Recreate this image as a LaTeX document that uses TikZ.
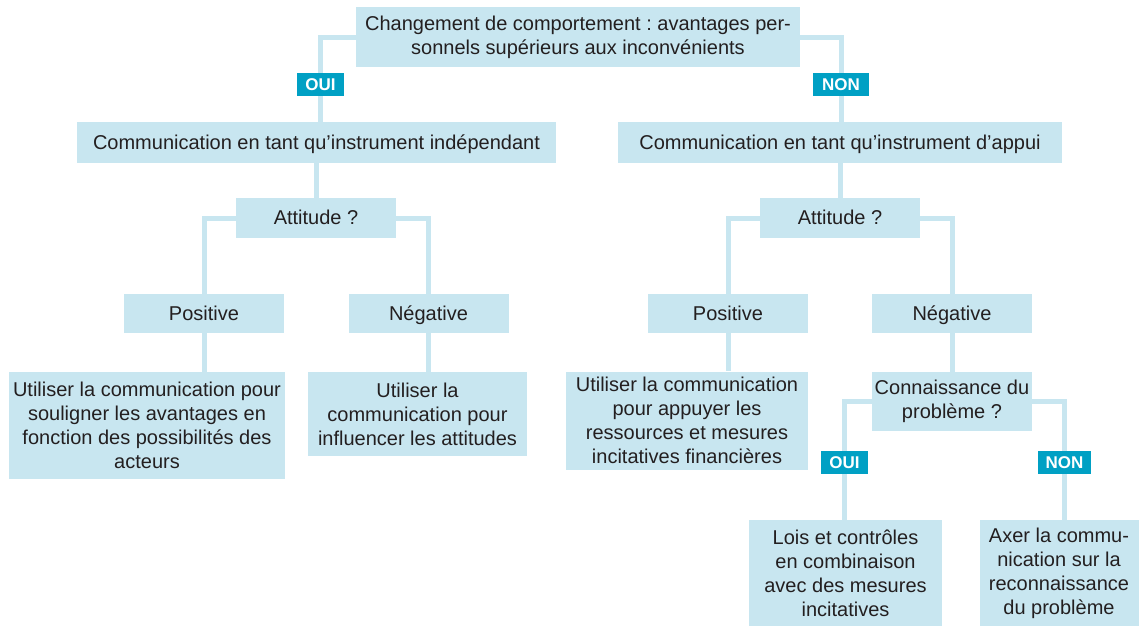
\documentclass[tikz,border=0pt]{standalone}
\usepackage{fontspec}
\setmainfont{Liberation Sans}
\usetikzlibrary{backgrounds}

\definecolor{boxblue}{RGB}{200,230,240}
\definecolor{badgeblue}{RGB}{0,160,196}
\definecolor{textgray}{RGB}{35,31,32}

\frenchspacing

\begin{document}
\begin{tikzpicture}[x=0.5pt, y=-0.5pt]  % 1 unit = 1 pixel of the original figure

    % Define some common styles
    \tikzset{
        box/.style={fill=boxblue, text=textgray, align=center, inner sep=0pt, font=\fontsize{10}{12}\selectfont},
        oneline/.style={box, text height=7.6pt, text depth=1pt},
        badge/.style={fill=badgeblue, text=white, inner sep=0pt, minimum height=11.5pt, text height=6.3pt, text depth=0pt, font=\fontsize{8.5}{10}\selectfont\bfseries},
        link/.style={draw=boxblue, line width=2.5pt}
    }

    \useasboundingbox (0,0) rectangle (1140,628);

    % Main question
    \node[box, minimum width=222pt, minimum height=30pt] (change) at (578,37) {Changement de comportement : avantages per-\\sonnels supérieurs aux inconvénients};
    \node[badge, minimum width=23.5pt] (oui) at (320.5,84.5) {OUI};
    \node[badge, minimum width=28pt] (non) at (841,84.5) {NON};

    % Role of the communication
    \node[oneline, minimum width=239.5pt, minimum height=20.5pt] (ci) at (316.5,142.5) {Communication en tant qu’instrument indépendant};
    \node[oneline, minimum width=222pt, minimum height=20.5pt] (ca) at (840,142.5) {Communication en tant qu’instrument d’appui};

    % Attitude questions
    \node[oneline, minimum width=80pt, minimum height=20pt] (attL) at (316,218) {Attitude ?};
    \node[oneline, minimum width=80pt, minimum height=20pt] (attR) at (840,218) {Attitude ?};

    % Answers
    \node[oneline, minimum width=80pt, minimum height=19.5pt] (posL) at (204,313.5) {Positive};
    \node[oneline, minimum width=80pt, minimum height=19.5pt] (negL) at (428.5,313.5) {Négative};
    \node[oneline, minimum width=80pt, minimum height=19.5pt] (posR) at (728,313.5) {Positive};
    \node[oneline, minimum width=80pt, minimum height=19.5pt] (negR) at (952,313.5) {Négative};

    % Resulting measures
    \node[box, minimum width=138pt, minimum height=53.5pt] (useL) at (147,425.5) {Utiliser la communication pour\\souligner les avantages en\\fonction des possibilités des\\acteurs};
    \node[box, minimum width=109.5pt, minimum height=42pt] (infL) at (417.5,414) {Utiliser la\\communication pour\\influencer les attitudes};
    \node[box, minimum width=121pt, minimum height=49pt] (useR) at (687,420.5) {Utiliser la communication\\pour appuyer les\\ressources et mesures\\incitatives financières};
    \node[box, minimum width=80pt, minimum height=29.5pt] (know) at (952,401.5) {Connaissance du\\problème ?};
    \node[badge, minimum width=23.5pt] (oui2) at (844.5,462.5) {OUI};
    \node[badge, minimum width=26.5pt] (non2) at (1064.5,462.5) {NON};
    \node[box, minimum width=96.5pt, minimum height=53pt] (laws) at (845.5,573) {Lois et contrôles\\en combinaison\\avec des mesures\\incitatives};
    \node[box, minimum width=79.5pt, minimum height=53pt] (focus) at (1059,573) {Axer la commu-\\nication sur la\\reconnaissance\\du problème};

    % Connectors (behind the boxes)
    \begin{pgfonlayer}{background}
        \draw[link] (change.west) -| (oui.center) -- (oui |- ci.north);
        \draw[link] (change.east) -| (non.center) -- (non |- ca.north);
        \draw[link] (ci.south) -- (ci.south |- attL.north);
        \draw[link] (ca.south) -- (ca.south |- attR.north);
        \draw[link] (attL.west) -| (posL.north);
        \draw[link] (attL.east) -| (negL.north);
        \draw[link] (attR.west) -| (posR.north);
        \draw[link] (attR.east) -| (negR.north);
        \draw[link] (posL.south) -- (posL.south |- useL.north);
        \draw[link] (negL.south) -- (negL.south |- infL.north);
        \draw[link] (posR.south) -- (posR.south |- useR.north);
        \draw[link] (negR.south) -- (negR.south |- know.north);
        \draw[link] (know.west) -| (oui2.center) -- (oui2 |- laws.north);
        \draw[link] (know.east) -| (non2.center) -- (non2 |- focus.north);
    \end{pgfonlayer}

\end{tikzpicture}
\end{document}
